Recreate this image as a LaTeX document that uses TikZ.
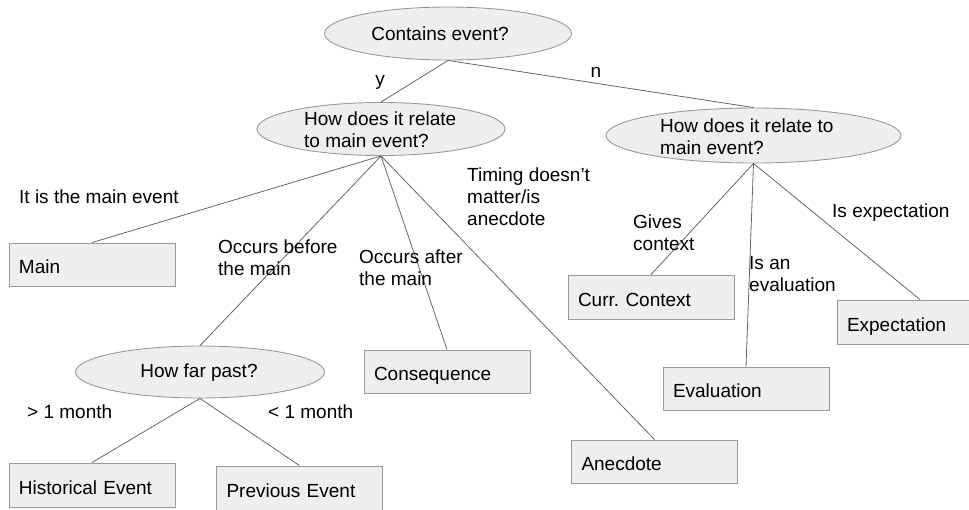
\documentclass[tikz,border=0pt]{standalone}
\usepackage{fontspec}
\setmainfont{Liberation Sans}
\usetikzlibrary{shapes.geometric}
\frenchspacing
\definecolor{fillgray}{HTML}{EEEEEE}
\definecolor{bordergray}{HTML}{9A9A9A}
\definecolor{linegray}{HTML}{666666}
\tikzset{
  every node/.style={font=\fontsize{19}{22}\selectfont, text=black},
  oval/.style={ellipse, draw=bordergray, fill=fillgray, line width=0.9pt, inner sep=0pt},
  box/.style={rectangle, draw=bordergray, fill=fillgray, line width=0.9pt,
    minimum width=166pt, text width=146pt, inner xsep=10pt, inner ysep=0pt, align=left,
    text height=18pt, text depth=0pt},
  txt/.style={inner sep=0pt, align=left},
  conn/.style={draw=linegray, line width=0.8pt},
}
\begin{document}
\begin{tikzpicture}[x=1pt, y=-1pt]
\clip (0,0) rectangle (969,509);
\fill[white] (0,0) rectangle (969,509);
% question ellipses
\node[oval, minimum width=247pt, minimum height=53pt] (q0) at (448,33.5) {};
\node[txt] (q0t) at (440,33.5) {Contains event?};
\node[oval, minimum width=248pt, minimum height=53pt] (q1) at (381,129) {};
\node[txt, anchor=west] (q1t) at (304,130) {How does it relate\\to main event?};
\node[oval, minimum width=295pt, minimum height=55pt] (q2) at (753.5,135.5) {};
\node[txt, anchor=west] (q2t) at (660,137) {How does it relate to\\main event?};
\node[oval, minimum width=249pt, minimum height=52pt] (q3) at (200,372) {};
\node[txt] (q3t) at (199,373) {How far past?};
% leaf boxes
\node[box, minimum height=43pt] (main) at (92,264.5) {Main};
\node[box, minimum height=44pt] (hist) at (92,485) {Historical Event};
\node[box, minimum height=44pt] (prev) at (299.5,488) {Previous Event};
\node[box, minimum height=43pt] (cons) at (447,371.5) {Consequence};
\node[box, minimum height=43pt] (anec) at (654.5,461.5) {Anecdote};
\node[box, minimum height=44pt] (curr) at (651,297) {Curr. Context};
\node[box, minimum height=43pt] (eval) at (746,388.5) {Evaluation};
\node[box, minimum height=44pt] (expe) at (920,322) {Expectation};
% connectors
\draw[conn] (q0.south) -- (q1.north);
\draw[conn] (q0.south) -- (q2.north);
\draw[conn] (q1.south) -- (main.north);
\draw[conn] (q1.south) -- (q3.north);
\draw[conn] (q1.south) -- (cons.north);
\draw[conn] (q1.south) -- (anec.north);
\draw[conn] (q3.south) -- (hist.north);
\draw[conn] (q3.south) -- (prev.north);
\draw[conn] (q2.south) -- (curr.north);
\draw[conn] (q2.south) -- (eval.north);
\draw[conn] (q2.south) -- (expe.north);
% edge labels
\node[txt] (ly) at (380,82) {y};
\node[txt] (ln) at (596,72) {n};
\node[txt, anchor=west] (lmain) at (19,197) {It is the main event};
\node[txt, anchor=west] (lbefore) at (218,258) {Occurs before\\the main};
\node[txt, anchor=west] (lafter) at (359,268) {Occurs after\\the main};
\node[txt, anchor=west] (ltiming) at (467,197) {Timing doesn’t\\matter/is\\anecdote};
\node[txt, anchor=west] (lgt) at (27,412) {> 1 month};
\node[txt, anchor=west] (llt) at (268,412) {< 1 month};
\node[txt, anchor=west] (lgives) at (633,233) {Gives\\context};
\node[txt, anchor=west] (leval) at (749,274.5) {Is an\\evaluation};
\node[txt, anchor=west] (lexp) at (832,213) {Is expectation};
\end{tikzpicture}
\end{document}
